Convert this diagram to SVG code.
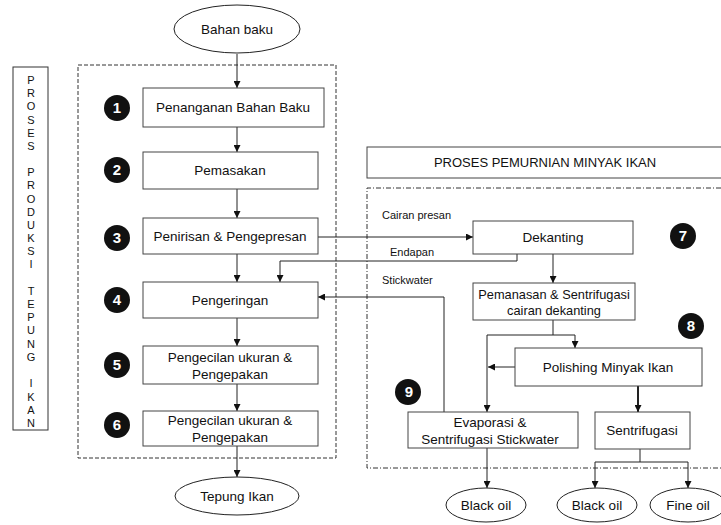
<svg xmlns="http://www.w3.org/2000/svg" width="721" height="525" viewBox="0 0 721 525">
<defs>
<marker id="ah" viewBox="0 0 10 10" refX="10" refY="5" markerWidth="7" markerHeight="7" markerUnits="userSpaceOnUse" orient="auto">
<path d="M0,0 L10,5 L0,10 z" fill="#111"/>
</marker>
</defs>
<style>
text{font-family:"Liberation Sans",Arial,sans-serif;fill:#111}
.box{fill:#fff;stroke:#444;stroke-width:1}
.ov{fill:#fff;stroke:#222;stroke-width:1}
.t{font-size:13.5px;text-anchor:middle}
.lb{font-size:11px}
.vt{font-size:11px;text-anchor:middle}
.bd{fill:#111}
.bn{font-size:15px;font-weight:bold;fill:#fff;text-anchor:middle}
.ln{fill:none;stroke:#222;stroke-width:1}
.ar{fill:none;stroke:#222;stroke-width:1;marker-end:url(#ah)}
.dash{fill:none;stroke:#333;stroke-width:1;stroke-dasharray:4,2}
.dd{fill:none;stroke:#333;stroke-width:1;stroke-dasharray:5,2,1,2}
</style>
<rect width="721" height="525" fill="#fff"/>

<g id="side-label">
<rect x="13" y="67" width="35" height="363" fill="#fff" stroke="#333"/>
<text class="vt" x="31" y="84">P</text><text class="vt" x="31" y="97">R</text><text class="vt" x="31" y="110">O</text><text class="vt" x="31" y="124">S</text><text class="vt" x="31" y="137">E</text><text class="vt" x="31" y="150">S</text>
<text class="vt" x="31" y="176">P</text><text class="vt" x="31" y="189">R</text><text class="vt" x="31" y="203">O</text><text class="vt" x="31" y="216">D</text><text class="vt" x="31" y="229">U</text><text class="vt" x="31" y="242">K</text><text class="vt" x="31" y="255">S</text><text class="vt" x="31" y="268">I</text>
<text class="vt" x="31" y="295">T</text><text class="vt" x="31" y="308">E</text><text class="vt" x="31" y="321">P</text><text class="vt" x="31" y="334">U</text><text class="vt" x="31" y="348">N</text><text class="vt" x="31" y="361">G</text>
<text class="vt" x="31" y="387">I</text><text class="vt" x="31" y="401">K</text><text class="vt" x="31" y="414">A</text><text class="vt" x="31" y="427">N</text>
</g>

<g id="frames">
<rect class="dash" x="78" y="65" width="258" height="393"/>
<path class="dd" d="M721,188 H367 V468 H721"/>
</g>

<g id="connectors">
<path class="ar" d="M237,54 V88"/>
<path class="ar" d="M237,127 V152"/>
<path class="ar" d="M237,189 V218"/>
<path class="ar" d="M237,254 V282"/>
<path class="ar" d="M237,318 V346"/>
<path class="ar" d="M237,384 V411"/>
<path class="ar" d="M237,446 V477"/>
<path class="ar" d="M318,237 H473"/>
<path class="ar" d="M517,254 V261 H280 V282"/>
<path class="ar" d="M553,254 V283"/>
<path class="ln" d="M553,320 V335 M487,335 H575"/>
<path class="ar" d="M487,335 V412"/>
<path class="ar" d="M575,335 V348"/>
<path class="ar" d="M515,367 H488"/>
<path class="ar" d="M638,386 V412" style="stroke-width:2"/>
<path class="ar" d="M444,412 V297 H318"/>
<path class="ar" d="M487,448 V488"/>
<path class="ln" d="M640,449 V462 M595,462 H688"/>
<path class="ar" d="M595,462 V488"/>
<path class="ar" d="M688,462 V488"/>
</g>

<g id="bahan-baku"><ellipse class="ov" cx="237" cy="29" rx="63" ry="24"/><text class="t" x="237" y="34">Bahan baku</text></g>

<g id="n1"><circle class="bd" cx="117" cy="108" r="13"/><text class="bn" x="117" y="113">1</text>
<rect class="box" x="143" y="88" width="181" height="39"/><text class="t" x="233" y="112">Penanganan Bahan Baku</text></g>
<g id="n2"><circle class="bd" cx="117" cy="170" r="13"/><text class="bn" x="117" y="175">2</text>
<rect class="box" x="143" y="152" width="175" height="37"/><text class="t" x="230" y="175">Pemasakan</text></g>
<g id="n3"><circle class="bd" cx="117" cy="238" r="13"/><text class="bn" x="117" y="243">3</text>
<rect class="box" x="143" y="218" width="175" height="36"/><text class="t" x="230" y="241">Penirisan &amp; Pengepresan</text></g>
<g id="n4"><circle class="bd" cx="117" cy="300" r="13"/><text class="bn" x="117" y="305">4</text>
<rect class="box" x="143" y="282" width="175" height="36"/><text class="t" x="230" y="305">Pengeringan</text></g>
<g id="n5"><circle class="bd" cx="117" cy="365" r="13"/><text class="bn" x="117" y="370">5</text>
<rect class="box" x="143" y="346" width="175" height="38"/><text class="t" x="230" y="362">Pengecilan ukuran &amp;</text><text class="t" x="230" y="379">Pengepakan</text></g>
<g id="n6"><circle class="bd" cx="117" cy="425" r="13"/><text class="bn" x="117" y="430">6</text>
<rect class="box" x="143" y="411" width="175" height="35"/><text class="t" x="230" y="425">Pengecilan ukuran &amp;</text><text class="t" x="230" y="442">Pengepakan</text></g>

<g id="tepung-ikan"><ellipse class="ov" cx="237" cy="496" rx="62" ry="19"/><text class="t" x="237" y="501">Tepung Ikan</text></g>

<g id="title-right"><rect class="box" x="367" y="147" width="364" height="31"/><text class="t" x="545" y="167" style="font-size:13px">PROSES PEMURNIAN MINYAK IKAN</text></g>

<g id="labels">
<text class="lb" x="382" y="219">Cairan presan</text>
<text class="lb" x="390" y="256">Endapan</text>
<text class="lb" x="382" y="284">Stickwater</text>
</g>

<g id="n7"><rect class="box" x="473" y="221" width="160" height="33"/><text class="t" x="553" y="242">Dekanting</text>
<circle class="bd" cx="683" cy="236" r="13"/><text class="bn" x="683" y="241">7</text></g>
<g id="pemanasan"><rect class="box" x="473" y="283" width="162" height="37"/><text class="t" x="554" y="299" style="font-size:12.8px">Pemanasan &amp; Sentrifugasi</text><text class="t" x="554" y="315" style="font-size:12.8px">cairan dekanting</text></g>
<g id="n8"><rect class="box" x="515" y="348" width="187" height="38"/><text class="t" x="608" y="372">Polishing Minyak Ikan</text>
<circle class="bd" cx="691" cy="326" r="13"/><text class="bn" x="691" y="331">8</text></g>
<g id="n9"><circle class="bd" cx="408" cy="392" r="13"/><text class="bn" x="409" y="397">9</text>
<rect class="box" x="408" y="412" width="170" height="36"/><text class="t" x="490" y="427">Evaporasi &amp;</text><text class="t" x="490" y="444">Sentrifugasi Stickwater</text></g>
<g id="sentrifugasi"><rect class="box" x="595" y="412" width="95" height="37"/><text class="t" x="642" y="435">Sentrifugasi</text></g>

<g id="black-oil-1"><ellipse class="ov" cx="486" cy="505" rx="40" ry="17"/><text class="t" x="486" y="510">Black oil</text></g>
<g id="black-oil-2"><ellipse class="ov" cx="597" cy="505" rx="40" ry="17"/><text class="t" x="597" y="510">Black oil</text></g>
<g id="fine-oil"><ellipse class="ov" cx="688" cy="505" rx="38" ry="17"/><text class="t" x="688" y="510">Fine oil</text></g>
</svg>
